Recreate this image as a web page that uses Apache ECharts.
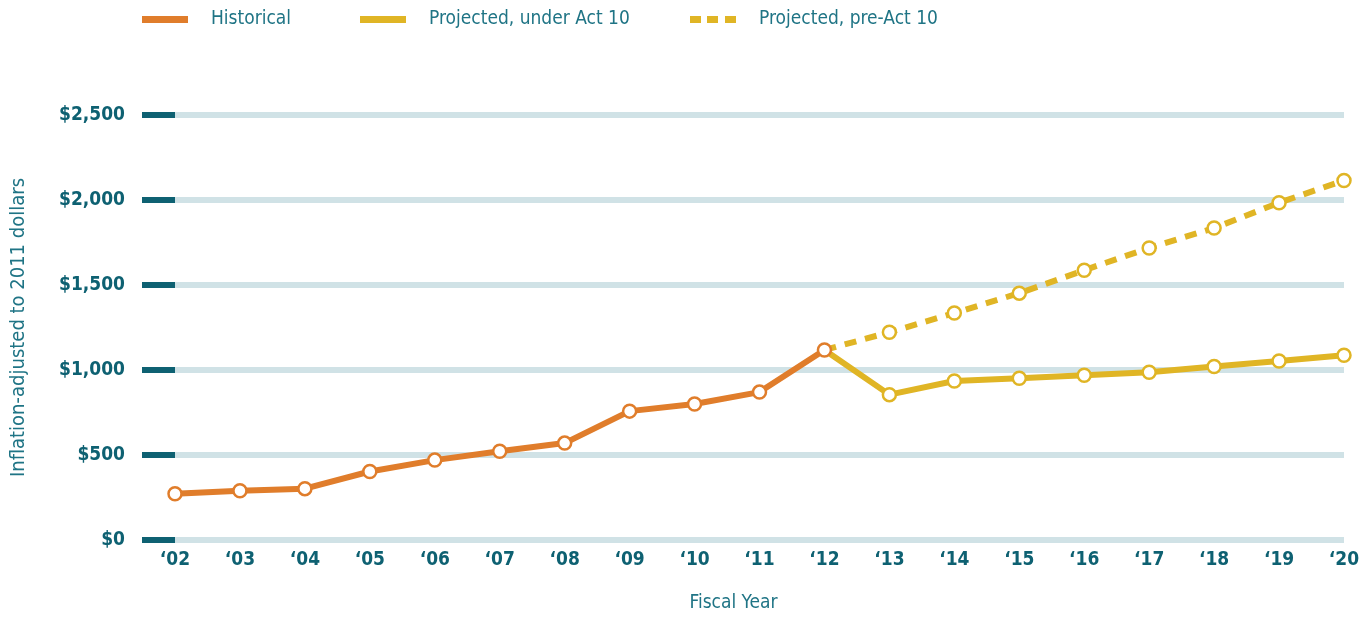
<!DOCTYPE html>
<html>
<head>
<meta charset="utf-8">
<script src="https://cdn.jsdelivr.net/npm/echarts@6/dist/echarts.min.js"></script>
<style>
  html, body { margin: 0; padding: 0; background: #fff; }
  #chart { width: 1369px; height: 618px; }
</style>
</head>
<body>
<div id="chart"></div>
<script>
// fiscal years and values (inflation-adjusted to 2011 dollars)
const years = ['‘02', '‘03', '‘04', '‘05', '‘06', '‘07', '‘08', '‘09', '‘10', '‘11',
  '‘12', '‘13', '‘14', '‘15', '‘16', '‘17', '‘18', '‘19', '‘20']
const historical = [272, 290, 302, 403, 470, 522, 570, 758, 800, 870, 1118,
  null, null, null, null, null, null, null, null]
const underAct10 = [null, null, null, null, null, null, null, null, null, null, 1118,
  855, 935, 951, 969, 987, 1021, 1053, 1087]
const preAct10 = [null, null, null, null, null, null, null, null, null, null, 1118,
  1222, 1335, 1452, 1587, 1718, 1835, 1984, 2115]
const yTicks = [0, 500, 1000, 1500, 2000, 2500]

const ORANGE = '#e07d2b'
const YELLOW = '#e0b525'
const TEAL = '#0e6172'
const TEAL_LIGHT = '#1f7485'
const GRID = '#d0e2e6'
const FONT = 'DejaVu Sans Condensed'

const chart = echarts.init(document.getElementById('chart'))

// the '12 point belongs to the historical series, hide it on the projected ones
function projected(arr) {
  return arr.map((v, i) => (i === 10 ? { value: v, symbolSize: 0 } : v))
}

function legendAt(left, name, icon, color) {
  return {
    left: left,
    top: 10,
    padding: 0,
    itemWidth: 46,
    itemHeight: 7,
    itemGap: 0,
    icon: icon,
    data: [name],
    selectedMode: false,
    itemStyle: { color: color, borderWidth: 0 },
    lineStyle: { opacity: 0 },
    textStyle: {
      fontFamily: FONT,
      fontSize: 19,
      color: TEAL_LIGHT,
      padding: [0, 0, 0, 18]
    }
  }
}

const option = {
  animation: false,
  legend: [
    legendAt(142, 'Historical', 'rect', ORANGE),
    legendAt(360, 'Projected, under Act 10', 'rect', YELLOW),
    legendAt(690, 'Projected, pre-Act 10', 'path://M0,0H11V7H0Z M17,0H28V7H17Z M35,0H46V7H35Z', YELLOW)
  ],
  grid: {
    left: 175,
    right: 25,
    top: 115,
    bottom: 78
  },
  xAxis: {
    type: 'category',
    data: years,
    boundaryGap: false,
    name: 'Fiscal Year',
    nameLocation: 'middle',
    nameGap: 54,
    nameTextStyle: {
      fontFamily: FONT,
      fontSize: 19,
      color: TEAL_LIGHT,
      padding: [0, 52, 0, 0]
    },
    axisLine: { show: false },
    axisTick: { show: false },
    axisLabel: {
      margin: 11,
      fontFamily: FONT,
      fontWeight: 'bold',
      fontSize: 19,
      color: TEAL
    }
  },
  yAxis: {
    type: 'value',
    min: yTicks[0],
    max: yTicks[yTicks.length - 1],
    interval: 500,
    name: 'Inflation-adjusted to 2011 dollars',
    nameLocation: 'middle',
    nameGap: 146,
    nameTextStyle: {
      fontFamily: FONT,
      fontSize: 20,
      color: TEAL_LIGHT
    },
    axisLine: { show: false },
    axisTick: {
      show: true,
      length: 33,
      lineStyle: { color: TEAL, width: 6 }
    },
    splitLine: {
      lineStyle: { color: GRID, width: 6 }
    },
    axisLabel: {
      margin: 50,
      fontFamily: FONT,
      fontWeight: 'bold',
      fontSize: 19,
      color: TEAL,
      formatter: v => '$' + v.toLocaleString('en-US')
    }
  },
  series: [
    {
      name: 'Projected, pre-Act 10',
      type: 'line',
      data: projected(preAct10),
      z: 2,
      symbol: 'circle',
      symbolSize: 13,
      lineStyle: { color: YELLOW, width: 6, type: [12, 9] },
      itemStyle: { color: '#fff', borderColor: YELLOW, borderWidth: 2.5 }
    },
    {
      name: 'Projected, under Act 10',
      type: 'line',
      data: projected(underAct10),
      z: 3,
      symbol: 'circle',
      symbolSize: 13,
      lineStyle: { color: YELLOW, width: 6 },
      itemStyle: { color: '#fff', borderColor: YELLOW, borderWidth: 2.5 }
    },
    {
      name: 'Historical',
      type: 'line',
      data: historical,
      z: 4,
      symbol: 'circle',
      symbolSize: 13,
      lineStyle: { color: ORANGE, width: 6 },
      itemStyle: { color: '#fff', borderColor: ORANGE, borderWidth: 2.5 }
    }
  ]
}

chart.setOption(option)
window.addEventListener('resize', () => chart.resize())
</script>
</body>
</html>
